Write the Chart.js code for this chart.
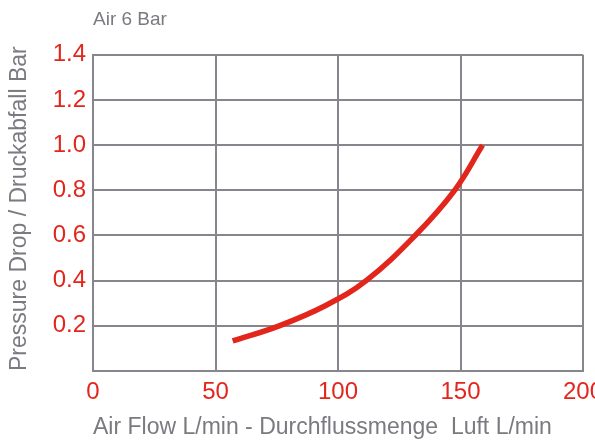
<!DOCTYPE html>
<html>
<head>
<meta charset="utf-8">
<script src="https://cdn.jsdelivr.net/npm/chart.js@4/dist/chart.umd.min.js"></script>
<style>
  html, body { margin: 0; padding: 0; background: #fff; }
  #wrap { width: 595px; height: 441px; }
</style>
</head>
<body>
<div id="wrap"><canvas id="myChart"></canvas></div>
<script>
// values (L/min vs bar)
const flow = [57, 76, 95, 111.5, 131.5, 147.6, 159];
const pressure = [0.133, 0.2, 0.29, 0.4, 0.6, 0.8, 1.0];
const xTicks = [0, 50, 100, 150, 200];
const yTicks = [0, 0.2, 0.4, 0.6, 0.8, 1.0, 1.2, 1.4];

const red = "#e3261c";
const grey = "#7a7a80";
const gridGrey = "#86868c";
const font = "'Liberation Sans', Arial, sans-serif";

const ctx = document.getElementById("myChart");

new Chart(ctx, {
  type: "line",
  data: {
    datasets: [
      {
        label: "Air 6 Bar",
        data: flow.map((x, i) => ({ x: x, y: pressure[i] })),
        borderColor: red,
        borderWidth: 5.5,
        borderCapStyle: "butt",
        pointRadius: 0,
        tension: 0.4,
        fill: false,
      },
    ],
  },
  options: {
    responsive: true,
    maintainAspectRatio: false,
    animation: false,
    layout: { padding: { right: 12 } },
    scales: {
      x: {
        type: "linear",
        min: 0,
        max: 200,
        afterBuildTicks: (scale) => {
          scale.ticks = xTicks.map((v) => ({ value: v }));
        },
        afterFit: (scale) => {
          scale.height = 70;
          scale.paddingLeft = 0;
          scale.paddingRight = 0;
        },
        ticks: {
          color: red,
          padding: 7,
          font: { family: font, size: 24 },
          maxRotation: 0,
        },
        grid: { color: gridGrey, lineWidth: 2, drawTicks: false },
        border: { color: gridGrey, width: 2 },
        title: {
          display: true,
          align: "start",
          text: "Air Flow L/min - Durchflussmenge  Luft L/min",
          color: grey,
          padding: { top: 2, bottom: 0 },
          font: { family: font, size: 23 },
        },
      },
      y: {
        min: 0,
        max: 1.4,
        afterBuildTicks: (scale) => {
          scale.ticks = yTicks.map((v) => ({ value: v }));
        },
        afterFit: (scale) => {
          scale.width = 93;
        },
        ticks: {
          color: red,
          padding: 7,
          font: { family: font, size: 24 },
          callback: (v) => (v === 0 ? "" : v.toFixed(1)),
        },
        grid: { color: gridGrey, lineWidth: 2, drawTicks: false },
        border: { color: gridGrey, width: 2 },
        title: {
          display: true,
          align: "start",
          text: "Pressure Drop / Druckabfall Bar",
          color: grey,
          padding: { top: 6, bottom: 0 },
          font: { family: font, size: 23 },
        },
      },
    },
    plugins: {
      legend: { display: false },
      tooltip: { enabled: false },
      title: {
        display: true,
        fullSize: false,
        align: "start",
        text: "Air 6 Bar",
        color: grey,
        font: { family: font, size: 19, weight: "normal" },
        padding: { top: 8, bottom: 24 },
      },
    },
  },
});
</script>
</body>
</html>
